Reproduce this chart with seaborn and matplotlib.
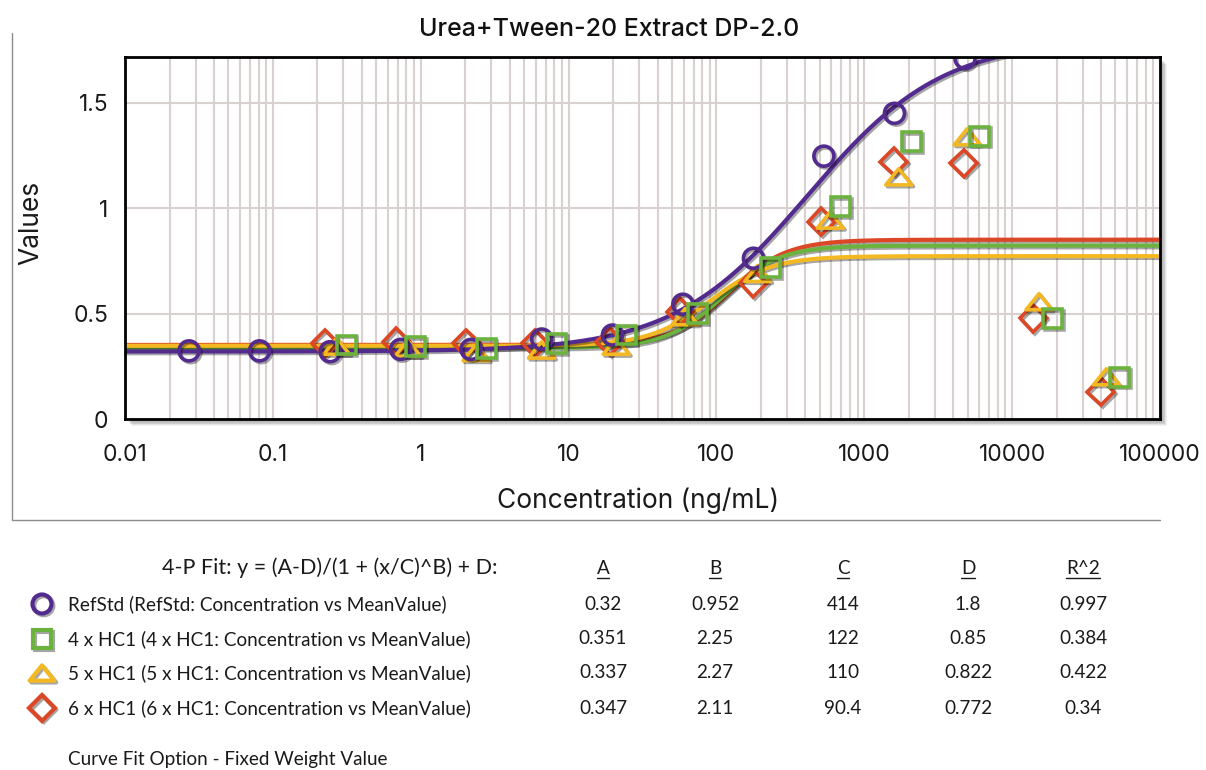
import numpy as np
import pandas as pd
import matplotlib
matplotlib.use("Agg")
import matplotlib.pyplot as plt
import matplotlib.patheffects as pe
from matplotlib.path import Path
from matplotlib.patches import Rectangle
from matplotlib.ticker import FixedLocator, LogLocator, FuncFormatter, NullFormatter
import seaborn as sns

# ---------------------------------------------------------------- data
series_names = ["RefStd", "4 x HC1", "5 x HC1", "6 x HC1"]

refstd_conc = [0.0271, 0.0813, 0.244, 0.732, 2.19, 6.58, 19.8, 59.3, 178, 533, 1600, 4800]
refstd_val = [0.323, 0.323, 0.319, 0.330, 0.330, 0.379, 0.398, 0.544, 0.762, 1.246, 1.449, 1.709]

hc4_conc = [0.313, 0.922, 2.77, 8.28, 24.7, 74.7, 232, 689, 2085, 6025, 18700, 53400]
hc4_val = [0.351, 0.343, 0.335, 0.359, 0.398, 0.501, 0.717, 1.006, 1.314, 1.341, 0.477, 0.198]

hc5_conc = [0.27, 0.819, 2.37, 6.56, 21.0, 61.4, 190, 589, 1710, 4966, 15200, 43400]
hc5_val = [0.345, 0.335, 0.315, 0.327, 0.345, 0.485, 0.690, 0.943, 1.148, 1.338, 0.556, 0.200]

hc6_conc = [0.225, 0.683, 2.03, 5.92, 19.0, 56.8, 178, 512, 1581, 4710, 13870, 39800]
hc6_val = [0.359, 0.366, 0.359, 0.359, 0.366, 0.509, 0.643, 0.935, 1.219, 1.212, 0.477, 0.129]

# 4-parameter logistic fit results, one entry per series
fit_A = [0.32, 0.351, 0.337, 0.347]
fit_B = [0.952, 2.25, 2.27, 2.11]
fit_C = [414, 122, 110, 90.4]
fit_D = [1.8, 0.85, 0.822, 0.772]
fit_R2 = [0.997, 0.384, 0.422, 0.34]

x_tick_values = [0.01, 0.1, 1, 10, 100, 1000, 10000, 100000]
y_tick_values = [0, 0.5, 1, 1.5]

# ---------------------------------------------------------------- style
PURPLE = "#532b8e"
GREEN = "#6bb33e"
YELLOW = "#f4b823"
RED = "#dc4826"

marker_colors = [PURPLE, GREEN, YELLOW, RED]
curve_colors = [PURPLE, RED, GREEN, YELLOW]

tri = Path([(-1, -0.62), (1, -0.62), (0, 0.62), (-1, -0.62)],
           [Path.MOVETO, Path.LINETO, Path.LINETO, Path.CLOSEPOLY])
markers = ["o", "s", tri, "D"]
marker_sizes = [14.4, 13.6, 18.7, 13.6]

sns.set_style("white")
plt.rcParams["font.family"] = ["Inter", "DejaVu Sans"]

W, H = 1206, 770
fig = plt.figure(figsize=(W / 100, H / 100), dpi=100)

# full-figure pixel overlay for frame, shadow and fit table
ax_t = fig.add_axes([0, 0, 1, 1], zorder=0)
ax_t.set_xlim(0, W)
ax_t.set_ylim(H, 0)
ax_t.axis("off")

L, R, T, B = 125, 1160, 57, 419
ax = fig.add_axes([L / W, 1 - B / H, (R - L) / W, (B - T) / H], zorder=1)
ax.set_facecolor("white")

# soft drop shadow behind the plot frame
for k in range(1, 9):
    ax_t.add_patch(Rectangle((L + k * 0.9, T + k * 0.9), R - L, B - T,
                             facecolor="black", edgecolor="none",
                             alpha=0.05, zorder=0))

shadow = [pe.SimpleLineShadow(offset=(1.3, -1.3), shadow_color="black", alpha=0.35),
          pe.Normal()]

# ---------------------------------------------------------------- curves
xs = np.logspace(-2, 5, 500)
curve_frames = []
for i, name in enumerate(series_names):
    y = (fit_A[i] - fit_D[i]) / (1 + (xs / fit_C[i]) ** fit_B[i]) + fit_D[i]
    curve_frames.append(pd.DataFrame({"x": xs, "y": y, "series": name}))

draw_order = [1, 2, 3, 0]
for i in draw_order:
    sns.lineplot(data=curve_frames[i], x="x", y="y", ax=ax, color=curve_colors[i],
                 linewidth=3.0, estimator=None, sort=False, legend=False,
                 path_effects=shadow, zorder=3)

# ---------------------------------------------------------------- points
point_frames = [
    pd.DataFrame({"x": refstd_conc, "y": refstd_val}),
    pd.DataFrame({"x": hc4_conc, "y": hc4_val}),
    pd.DataFrame({"x": hc5_conc, "y": hc5_val}),
    pd.DataFrame({"x": hc6_conc, "y": hc6_val}),
]
for i in [3, 2, 0, 1]:
    sns.lineplot(data=point_frames[i], x="x", y="y", ax=ax, linestyle="none",
                 marker=markers[i], markersize=marker_sizes[i],
                 markerfacecolor="none", markeredgecolor=marker_colors[i],
                 markeredgewidth=2.6, estimator=None, legend=False,
                 path_effects=shadow, zorder=4)

# ---------------------------------------------------------------- axes
ax.set_xscale("log")
ax.set_xlim(0.01, 100000)
ax.set_ylim(0, 1.716)
ax.xaxis.set_major_locator(FixedLocator(x_tick_values))
ax.xaxis.set_minor_locator(LogLocator(base=10, subs=np.arange(2, 10), numticks=30))
ax.xaxis.set_minor_formatter(NullFormatter())
ax.xaxis.set_major_formatter(FuncFormatter(lambda v, _: f"{v:.10g}"))
ax.yaxis.set_major_locator(FixedLocator(y_tick_values))
ax.yaxis.set_major_formatter(FuncFormatter(lambda v, _: f"{v:g}"))

grid_kw = dict(color="#d9d0d0", linewidth=1.5)
ax.grid(True, which="both", axis="x", **grid_kw)
ax.grid(True, which="major", axis="y", **grid_kw)
ax.set_axisbelow(True)

ax.tick_params(axis="both", which="both", length=0, labelsize=16.5, colors="#1a1a1a")
ax.tick_params(axis="x", pad=18)
ax.tick_params(axis="y", pad=12)

for sp in ax.spines.values():
    sp.set_visible(True)
    sp.set_color("black")
    sp.set_linewidth(2.0)
    sp.set_zorder(6)

ax.set_xlabel("Concentration (ng/mL)", fontsize=19, color="#1a1a1a")
ax.set_ylabel("Values", fontsize=19, color="#1a1a1a")
ax.xaxis.set_label_coords(0.496, -0.19)
ax.yaxis.set_label_coords(-0.078, 0.541)

fig.text(609 / W, 1 - 30 / H, "Urea+Tween-20 Extract DP-2.0", ha="center",
         va="center", fontsize=18, fontweight="medium", color="#111111")

# outer frame lines
ax_t.plot([12, 12], [33, 520], color="#8c8c8c", linewidth=1.0)
ax_t.plot([12, 1160], [520, 520], color="#8c8c8c", linewidth=1.0)

# ---------------------------------------------------------------- fit table
tfont = dict(family=["Lato", "DejaVu Sans"], fontsize=13.6, color="#1a1a1a")
ax_t.text(498, 568, "4-P Fit: y = (A-D)/(1 + (x/C)^B) + D:", ha="right", va="center",
          family=["Lato", "DejaVu Sans"], fontsize=15.5, color="#1a1a1a")

col_x = [603, 715, 843, 968, 1083]
headers = ["A", "B", "C", "D", "R^2"]
header_texts = [ax_t.text(cx, 568, h, ha="center", va="center", **tfont)
                for cx, h in zip(col_x, headers)]

row_y = [604, 639, 673, 708]
for i, name in enumerate(series_names):
    ry = row_y[i]
    ax_t.plot([42], [ry], linestyle="none", marker=markers[i], markersize=marker_sizes[i] * 0.95,
              markerfacecolor="none", markeredgecolor=marker_colors[i], markeredgewidth=3.0,
              path_effects=shadow)
    ax_t.text(68, ry, f"{name} ({name}: Concentration vs MeanValue)", ha="left",
              va="center", **tfont)
    vals = [fit_A[i], fit_B[i], fit_C[i], fit_D[i], fit_R2[i]]
    for cx, v in zip(col_x, vals):
        ax_t.text(cx, ry, f"{v:g}", ha="center", va="center", **tfont)

ax_t.text(68, 760, "Curve Fit Option - Fixed Weight Value", ha="left", va="center", **tfont)

# underline the column headers
fig.canvas.draw()
rend = fig.canvas.get_renderer()
for t in header_texts:
    bb = t.get_window_extent(rend)
    yline = H - bb.y0 + 1.5
    ax_t.plot([bb.x0, bb.x1], [yline, yline], color="#1a1a1a", linewidth=1.0)

fig.savefig("out.png", dpi=100)
